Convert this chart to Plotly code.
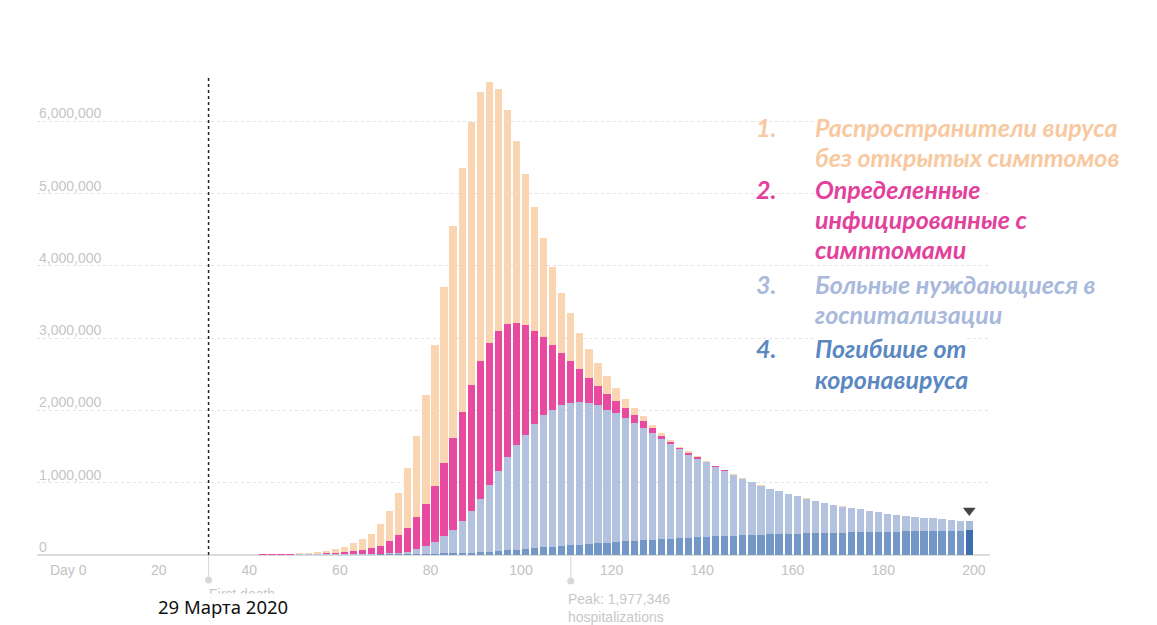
import plotly.graph_objects as go

# ---------------- data (values in millions) ----------------
days = list(range(43, 200, 2))

total_top = [0.003, 0.005, 0.008, 0.012, 0.018, 0.027, 0.040, 0.058, 0.082, 0.115, 0.160, 0.215, 0.295,
             0.425, 0.61, 0.86, 1.20, 1.64, 2.21, 2.91, 3.71, 4.55, 5.35, 5.99, 6.41, 6.54, 6.44, 6.15, 5.73, 5.27, 4.82, 4.39,
             3.98, 3.62, 3.35, 3.07, 2.85, 2.65, 2.47, 2.31, 2.16, 2.04, 1.92, 1.80, 1.69, 1.59, 1.50, 1.44, 1.37, 1.30, 1.235, 1.175, 1.115, 1.06, 1.01,
             0.962, 0.917, 0.882, 0.847, 0.812, 0.782, 0.752, 0.722, 0.697, 0.672, 0.652, 0.632, 0.612, 0.592, 0.572, 0.557, 0.542, 0.527, 0.517, 0.507, 0.497, 0.487, 0.477, 0.467]

symptomatic_top = [0.001, 0.002, 0.003, 0.004, 0.006, 0.009, 0.013, 0.019, 0.027, 0.037, 0.050, 0.066, 0.090,
                   0.13, 0.19, 0.27, 0.38, 0.53, 0.71, 0.96, 1.27, 1.62, 1.98, 2.35, 2.68, 2.93, 3.10, 3.19, 3.21, 3.18, 3.10, 3.01,
                   2.90, 2.80, 2.68, 2.57, 2.45, 2.34, 2.23, 2.13, 2.03, 1.93, 1.85, 1.75, 1.65, 1.56, 1.48, 1.41, 1.35, 1.29, 1.23, 1.17, 1.11, 1.058, 1.008,
                   0.960, 0.915, 0.880, 0.845, 0.810, 0.780, 0.750, 0.720, 0.695, 0.670, 0.650, 0.630, 0.610, 0.590, 0.570, 0.555, 0.540, 0.525, 0.515, 0.505, 0.495, 0.485, 0.475, 0.465]

hospital_top = [0, 0, 0, 0, 0.001, 0.001, 0.001, 0.002, 0.002, 0.003, 0.004, 0.005, 0.008,
                0.012, 0.02, 0.03, 0.045, 0.08, 0.12, 0.18, 0.26, 0.35, 0.47, 0.61, 0.77, 0.975, 1.16, 1.36, 1.52, 1.66, 1.81, 1.93,
                2.01, 2.07, 2.10, 2.11, 2.10, 2.07, 2.01, 1.97, 1.90, 1.83, 1.76, 1.69, 1.61, 1.53, 1.46, 1.39, 1.33, 1.28, 1.22, 1.165, 1.105, 1.055, 1.005,
                0.96, 0.915, 0.88, 0.845, 0.81, 0.78, 0.75, 0.72, 0.695, 0.67, 0.65, 0.63, 0.61, 0.59, 0.57, 0.555, 0.54, 0.525, 0.515, 0.505, 0.495, 0.485, 0.475, 0.465]

deaths_top = [0, 0, 0, 0, 0, 0, 0, 0, 0, 0, 0, 0, 0,
              0.001, 0.002, 0.003, 0.005, 0.007, 0.01, 0.013, 0.017, 0.021, 0.026, 0.032, 0.04, 0.047, 0.055, 0.065, 0.075, 0.085, 0.095, 0.105,
              0.115, 0.125, 0.135, 0.145, 0.155, 0.163, 0.171, 0.179, 0.187, 0.195, 0.203, 0.21, 0.217, 0.224, 0.231, 0.238, 0.244, 0.25, 0.256, 0.261, 0.266, 0.271, 0.276,
              0.28, 0.284, 0.288, 0.292, 0.296, 0.299, 0.302, 0.305, 0.308, 0.311, 0.314, 0.316, 0.318, 0.32, 0.322, 0.324, 0.326, 0.328, 0.33, 0.332, 0.334, 0.336, 0.338, 0.34]

y_tick_vals = [0, 1, 2, 3, 4, 5, 6]
y_tick_text = ["0", "1,000,000", "2,000,000", "3,000,000", "4,000,000", "5,000,000", "6,000,000"]
x_tick_vals = [0, 20, 40, 60, 80, 100, 120, 140, 160, 180, 200]
x_tick_text = ["Day 0", "20", "40", "60", "80", "100", "120", "140", "160", "180", "200"]

first_death_day = 31
peak_day = 111
marker_day = 199
marker_level = 0.615

legend_items = [
    ("1.", ["Распространители вируса", "без открытых симптомов"], "#f8c9a0"),
    ("2.", ["Определенные", "инфицированные с", "симптомами"], "#e2429c"),
    ("3.", ["Больные нуждающиеся в", "госпитализации"], "#a9b9dc"),
    ("4.", ["Погибшие от", "коронавируса"], "#5b88c1"),
]

# ---------------- layout geometry ----------------
W, H = 1157, 625
OFF = 8  # page body margin offset
L, R, T, B = 37 - OFF, 990 - OFF, 70 - OFF, 555 - OFF
x_range = [(37 - 68.2) / 4.528, (990 - 68.2) / 4.528]
y_range = [0, (555 - 70) / 72.3]


def px(xp):
    return (xp - OFF - L) / (R - L)


def py(yp):
    return (B - (yp - OFF)) / (B - T)


bar_w = 1.6
n = len(days)
col_peach = "#f9d5b2"
col_pink = "#e84a9f"
col_lblue = ["#b3c2df"] * (n - 1) + ["#a9b9d8"]
col_dblue = ["#7398c8"] * (n - 1) + ["#3d6eb0"]

fig = go.Figure()
fig.add_trace(go.Bar(x=days, y=total_top, width=bar_w, marker=dict(color=col_peach, line=dict(width=0))))
fig.add_trace(go.Bar(x=days, y=symptomatic_top, width=bar_w, marker=dict(color=col_pink, line=dict(width=0))))
fig.add_trace(go.Bar(x=days, y=hospital_top, width=bar_w, marker=dict(color=col_lblue, line=dict(width=0))))
fig.add_trace(go.Bar(x=days, y=deaths_top, width=bar_w, marker=dict(color=col_dblue, line=dict(width=0))))
fig.add_trace(go.Scatter(x=[marker_day], y=[marker_level], mode="markers",
                         marker=dict(symbol="triangle-down", size=11, color="#444444"), cliponaxis=False))

annotations = []
# y tick labels above grid lines
for v, t in zip(y_tick_vals, y_tick_text):
    annotations.append(dict(xref="paper", yref="y", x=0.0, y=v, text=t, showarrow=False,
                            xanchor="left", yanchor="bottom", yshift=-2,
                            font=dict(family="Liberation Sans, Arial", size=14, color="#c6c6c6")))

# first death / peak labels
annotations.append(dict(xref="paper", yref="paper", x=px(207), y=py(594), text="First death", showarrow=False,
                        xanchor="left", yanchor="middle",
                        font=dict(family="Liberation Sans, Arial", size=14, color="#c8c8c8")))
annotations.append(dict(xref="paper", yref="paper", x=px(157), y=py(606), text="29 Марта 2020", showarrow=False,
                        xanchor="left", yanchor="middle", bgcolor="rgba(255,255,255,0.9)", borderpad=0,
                        font=dict(family="Noto Sans", size=18.5, color="#111111")))
annotations.append(dict(xref="paper", yref="paper", x=px(566), y=py(589), text="Peak: 1,977,346<br>hospitalizations",
                        showarrow=False, xanchor="left", yanchor="top", align="left",
                        font=dict(family="Liberation Sans, Arial", size=14, color="#c8c8c8")))

# legend text block
line_y = [[127, 157], [189, 219, 249], [284, 314], [348, 379]]
for (num, lines, col), ys in zip(legend_items, line_y):
    annotations.append(dict(xref="paper", yref="paper", x=px(754), y=py(ys[0]), text=num, showarrow=False,
                            xanchor="left", yanchor="middle",
                            font=dict(family="Lato", size=25, color=col, weight="bold", style="italic")))
    for txt, yy in zip(lines, ys):
        annotations.append(dict(xref="paper", yref="paper", x=px(814), y=py(yy), text=txt, showarrow=False,
                                xanchor="left", yanchor="middle", bgcolor="white", borderpad=0,
                                font=dict(family="Lato", size=25, color=col, weight="bold", style="italic")))

shapes = [
    dict(type="line", xref="x", yref="y", x0=first_death_day, x1=first_death_day, y0=0, y1=(555 - 75) / 72.3,
         line=dict(color="#222222", width=1.5, dash="dot")),
    dict(type="line", xref="x", yref="paper", x0=first_death_day, x1=first_death_day, y0=0, y1=py(579),
         line=dict(color="#d8d8d8", width=1)),
    dict(type="circle", xref="x", yref="paper", xsizemode="pixel", ysizemode="pixel",
         xanchor=first_death_day, yanchor=py(580), x0=-3.5, x1=3.5, y0=-3.5, y1=3.5,
         fillcolor="#d8d8d8", line=dict(width=0)),
    dict(type="line", xref="x", yref="paper", x0=peak_day, x1=peak_day, y0=0, y1=py(579),
         line=dict(color="#d8d8d8", width=1)),
    dict(type="circle", xref="x", yref="paper", xsizemode="pixel", ysizemode="pixel",
         xanchor=peak_day, yanchor=py(581), x0=-3.5, x1=3.5, y0=-3.5, y1=3.5,
         fillcolor="#d8d8d8", line=dict(width=0)),
]

fig.update_layout(
    width=W, height=H,
    margin=dict(l=L, r=W - R, t=T, b=H - B),
    paper_bgcolor="white", plot_bgcolor="white",
    barmode="overlay", bargap=0, showlegend=False,
    annotations=annotations, shapes=shapes,
    xaxis=dict(range=x_range, tickvals=x_tick_vals, ticktext=x_tick_text, showgrid=False, zeroline=False,
               showline=False, ticks="", ticklabelstandoff=5,
               tickfont=dict(family="Liberation Sans, Arial", size=14, color="#c2c2c2")),
    yaxis=dict(range=y_range, tickvals=y_tick_vals, showticklabels=False, showgrid=True,
               gridcolor="#e2e2e2", griddash="dot", gridwidth=1.2,
               zeroline=True, zerolinecolor="#dcdcdc", zerolinewidth=1.5, showline=False),
)

fig.write_html("out.html")
